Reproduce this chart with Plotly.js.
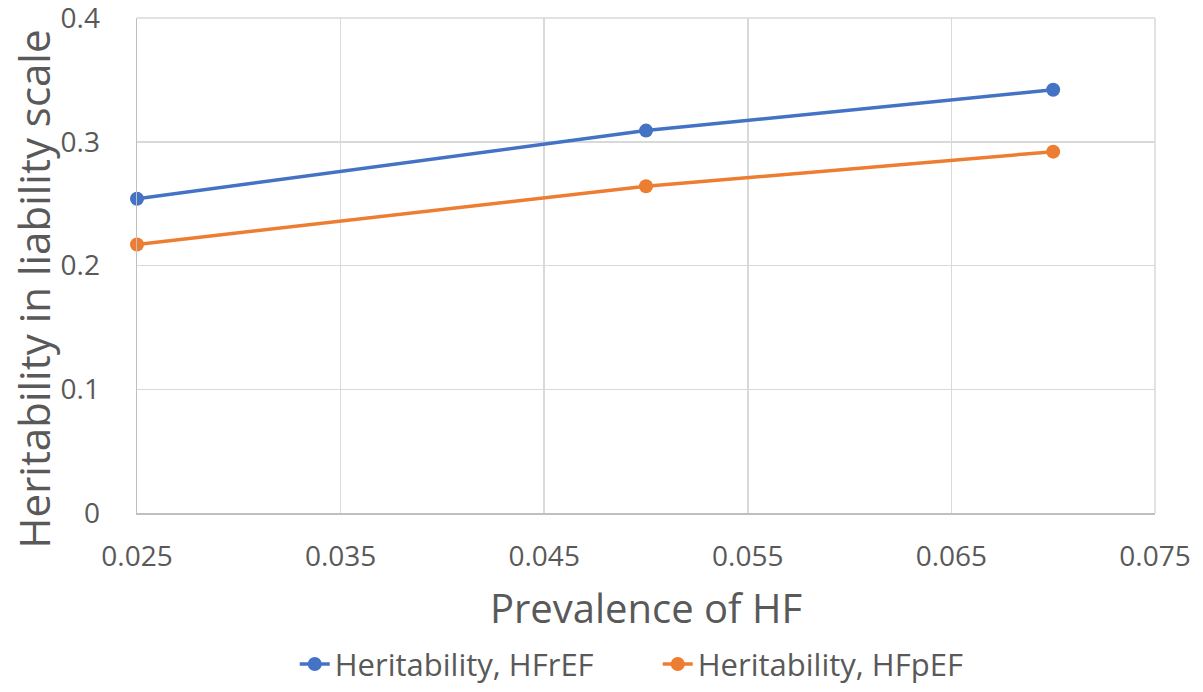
<!DOCTYPE html>
<html>
<head>
<meta charset="utf-8">
<script src="https://cdn.plot.ly/plotly-3.0.1.min.js"></script>
<style>html,body{margin:0;padding:0;background:#fff;}#chart{width:1203px;height:692px;}</style>
</head>
<body>
<div id="chart"></div>
<script>
const prevalence = [0.025, 0.05, 0.07];
const herHFrEF = [0.254, 0.309, 0.342];
const herHFpEF = [0.217, 0.264, 0.292];
const seriesNames = ["Heritability, HFrEF", "Heritability, HFpEF"];
const xTicks = [0.025, 0.035, 0.045, 0.055, 0.065, 0.075];
const yTicks = [0, 0.1, 0.2, 0.3, 0.4];
const xTitle = "Prevalence of HF";
const yTitle = "Heritability in liability scale";

const font = "Open Sans, Liberation Sans, sans-serif";
const traces = [
  {x: prevalence, y: herHFrEF, name: seriesNames[0], mode: "lines+markers", type: "scatter", cliponaxis: false,
   line: {color: "#4472C4", width: 3.5}, marker: {color: "#4472C4", size: 14}},
  {x: prevalence, y: herHFpEF, name: seriesNames[1], mode: "lines+markers", type: "scatter", cliponaxis: false,
   line: {color: "#ED7D31", width: 3.5}, marker: {color: "#ED7D31", size: 14}}
];
const layout = {
  width: 1203, height: 692,
  margin: {l: 137, r: 48, t: 18, b: 179},
  paper_bgcolor: "#fff", plot_bgcolor: "#fff",
  font: {family: font, color: "#595959"},
  xaxis: {
    range: [0.025, 0.075], tickvals: xTicks, ticktext: xTicks.map(v => v.toFixed(3)),
    showgrid: true, gridcolor: "#d9d9d9", gridwidth: 1.5, zeroline: false,
    showline: true, linecolor: "#bfbfbf", linewidth: 1.5, mirror: false, automargin: false,
    ticklabeloverflow: "allow",
    tickfont: {size: 28, color: "#595959", family: font},
    ticks: "outside", ticklen: 18, tickcolor: "rgba(0,0,0,0)",
    title: {text: xTitle, font: {size: 40, color: "#595959", family: font}, standoff: 22}
  },
  yaxis: {
    range: [0, 0.4], tickvals: yTicks, ticktext: yTicks.map(v => String(v)),
    showgrid: true, gridcolor: "#d9d9d9", gridwidth: 1.5, zeroline: false,
    showline: true, linecolor: "#bfbfbf", linewidth: 1.5, automargin: false,
    ticklabeloverflow: "allow",
    tickfont: {size: 28, color: "#595959", family: font},
    ticks: "outside", ticklen: 30, tickcolor: "rgba(0,0,0,0)"
  },
  annotations: [
    {text: yTitle, xref: "paper", yref: "paper", x: -0.102, y: 0.452, xanchor: "center", yanchor: "middle",
     textangle: -90, showarrow: false, font: {size: 42, color: "#595959", family: font}}
  ],
  shapes: [
    {type: "line", xref: "paper", yref: "paper", x0: 0, x1: 1, y0: 1, y1: 1, line: {color: "#d9d9d9", width: 1.5}},
    {type: "line", xref: "paper", yref: "paper", x0: 1, x1: 1, y0: 0, y1: 1, line: {color: "#d9d9d9", width: 1.5}}
  ],
  legend: {orientation: "h", xref: "container", yref: "container", x: 0.245, xanchor: "left", y: 0.04, yanchor: "middle",
           font: {size: 31, color: "#595959", family: font}, entrywidth: 318},
  showlegend: true
};
Plotly.newPlot("chart", traces, layout, {displayModeBar: false, staticPlot: true});
</script>
</body>
</html>
